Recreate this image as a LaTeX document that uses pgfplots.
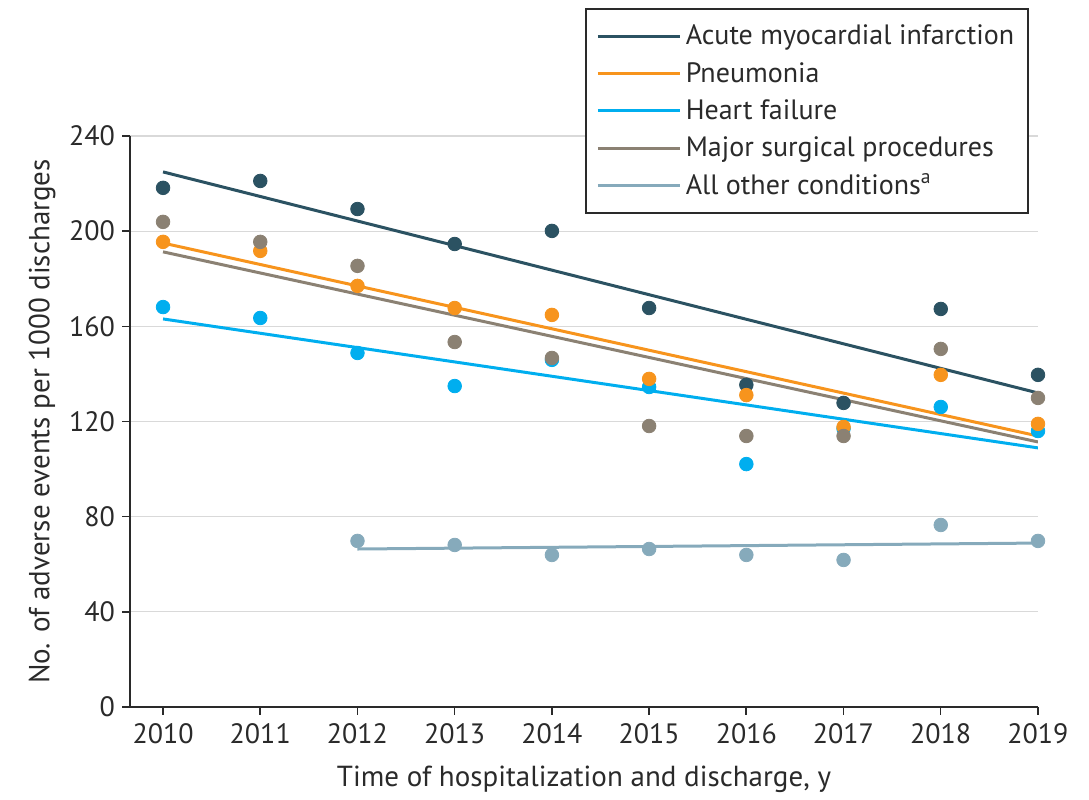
\documentclass[border=0pt]{standalone}
\usepackage{pgfplots}
\pgfplotsset{compat=1.18}
\usepackage{fontspec}
\setmainfont{PT Sans}
\definecolor{ami}{HTML}{2B5262}
\definecolor{pneu}{HTML}{F7941D}
\definecolor{hf}{HTML}{00AEEF}
\definecolor{surg}{HTML}{8B8173}
\definecolor{other}{HTML}{86AABB}
\definecolor{txt}{HTML}{2A2A2A}
\begin{document}
\begin{tikzpicture}
\begin{axis}[
  scale only axis, width=454pt, height=285.5pt,
  xmin=2009.66, xmax=2019, ymin=0, ymax=240,
  axis lines=left, axis line style={txt, line width=0.8pt, -},
  xtick={2010,...,2019}, ytick={0,40,...,240},
  tick style={txt, line width=0.8pt}, tick align=outside, major tick length=4pt,
  ymajorgrids, grid style={gray!30, line width=0.6pt},
  /pgf/number format/assume math mode=true,
  /pgf/number format/1000 sep={},
  tick label style={font=\fontsize{14}{16}\selectfont, text=txt},
  xticklabel style={yshift=-1pt},
  xlabel={Time of hospitalization and discharge, y},
  ylabel={No. of adverse events per 1000 discharges},
  label style={font=\fontsize{14.5}{17}\selectfont, text=txt},
  xlabel style={yshift=-4pt},
  legend cell align=left,
  legend style={at={(0.99,1.224)}, anchor=north east, draw=txt, line width=0.8pt,
    font=\fontsize{14}{16}\selectfont, text=txt, row sep=3.2pt, inner xsep=5pt, inner ysep=6pt},
  legend image code/.code={\draw[#1, line width=1.5pt] (0cm,0cm) -- (1.45cm,0cm);},
]
% fitted lines
\addplot[ami, line width=1.5pt] coordinates {(2010,224.9) (2019,132.0)};
\addlegendentry{Acute myocardial infarction}
\addplot[pneu, line width=1.5pt] coordinates {(2010,195.0) (2019,113.9)};
\addlegendentry{Pneumonia}
\addplot[hf, line width=1.5pt] coordinates {(2010,163.1) (2019,108.9)};
\addlegendentry{Heart failure}
\addplot[surg, line width=1.5pt] coordinates {(2010,191.3) (2019,111.4)};
\addlegendentry{Major surgical procedures}
\addplot[other, line width=1.5pt] coordinates {(2012,66.4) (2019,68.9)};
\addlegendentry{All other conditions\textsuperscript{a}}
% observed points
\addplot[only marks, mark=*, mark size=3.4pt, ami, forget plot] coordinates {
(2010,218.2) (2011,221.1) (2012,209.3) (2013,194.6) (2014,200.1)
(2015,167.7) (2016,135.4) (2017,127.8) (2018,167.3) (2019,139.6)};
\addplot[only marks, mark=*, mark size=3.4pt, hf, forget plot] coordinates {
(2010,168.1) (2011,163.5) (2012,148.8) (2013,134.9) (2014,145.9)
(2015,134.5) (2016,102.1) (2017,117.0) (2018,126.1) (2019,116.0)};
\addplot[only marks, mark=*, mark size=3.4pt, pneu, forget plot] coordinates {
(2010,195.5) (2011,191.7) (2012,177.0) (2013,167.7) (2014,164.8)
(2015,137.9) (2016,131.1) (2017,117.7) (2018,139.6) (2019,119.0)};
\addplot[only marks, mark=*, mark size=3.4pt, surg, forget plot] coordinates {
(2010,203.9) (2011,195.5) (2012,185.4) (2013,153.4) (2014,146.7)
(2015,118.1) (2016,113.9) (2017,113.9) (2018,150.5) (2019,129.9)};
\addplot[only marks, mark=*, mark size=3.4pt, other, forget plot] coordinates {
(2012,69.8) (2013,68.1) (2014,63.9) (2015,66.4) (2016,63.9)
(2017,61.8) (2018,76.5) (2019,69.8)};
\end{axis}
\path (-65pt,-45pt) rectangle (479.5pt,353.5pt);
\end{tikzpicture}
\end{document}
